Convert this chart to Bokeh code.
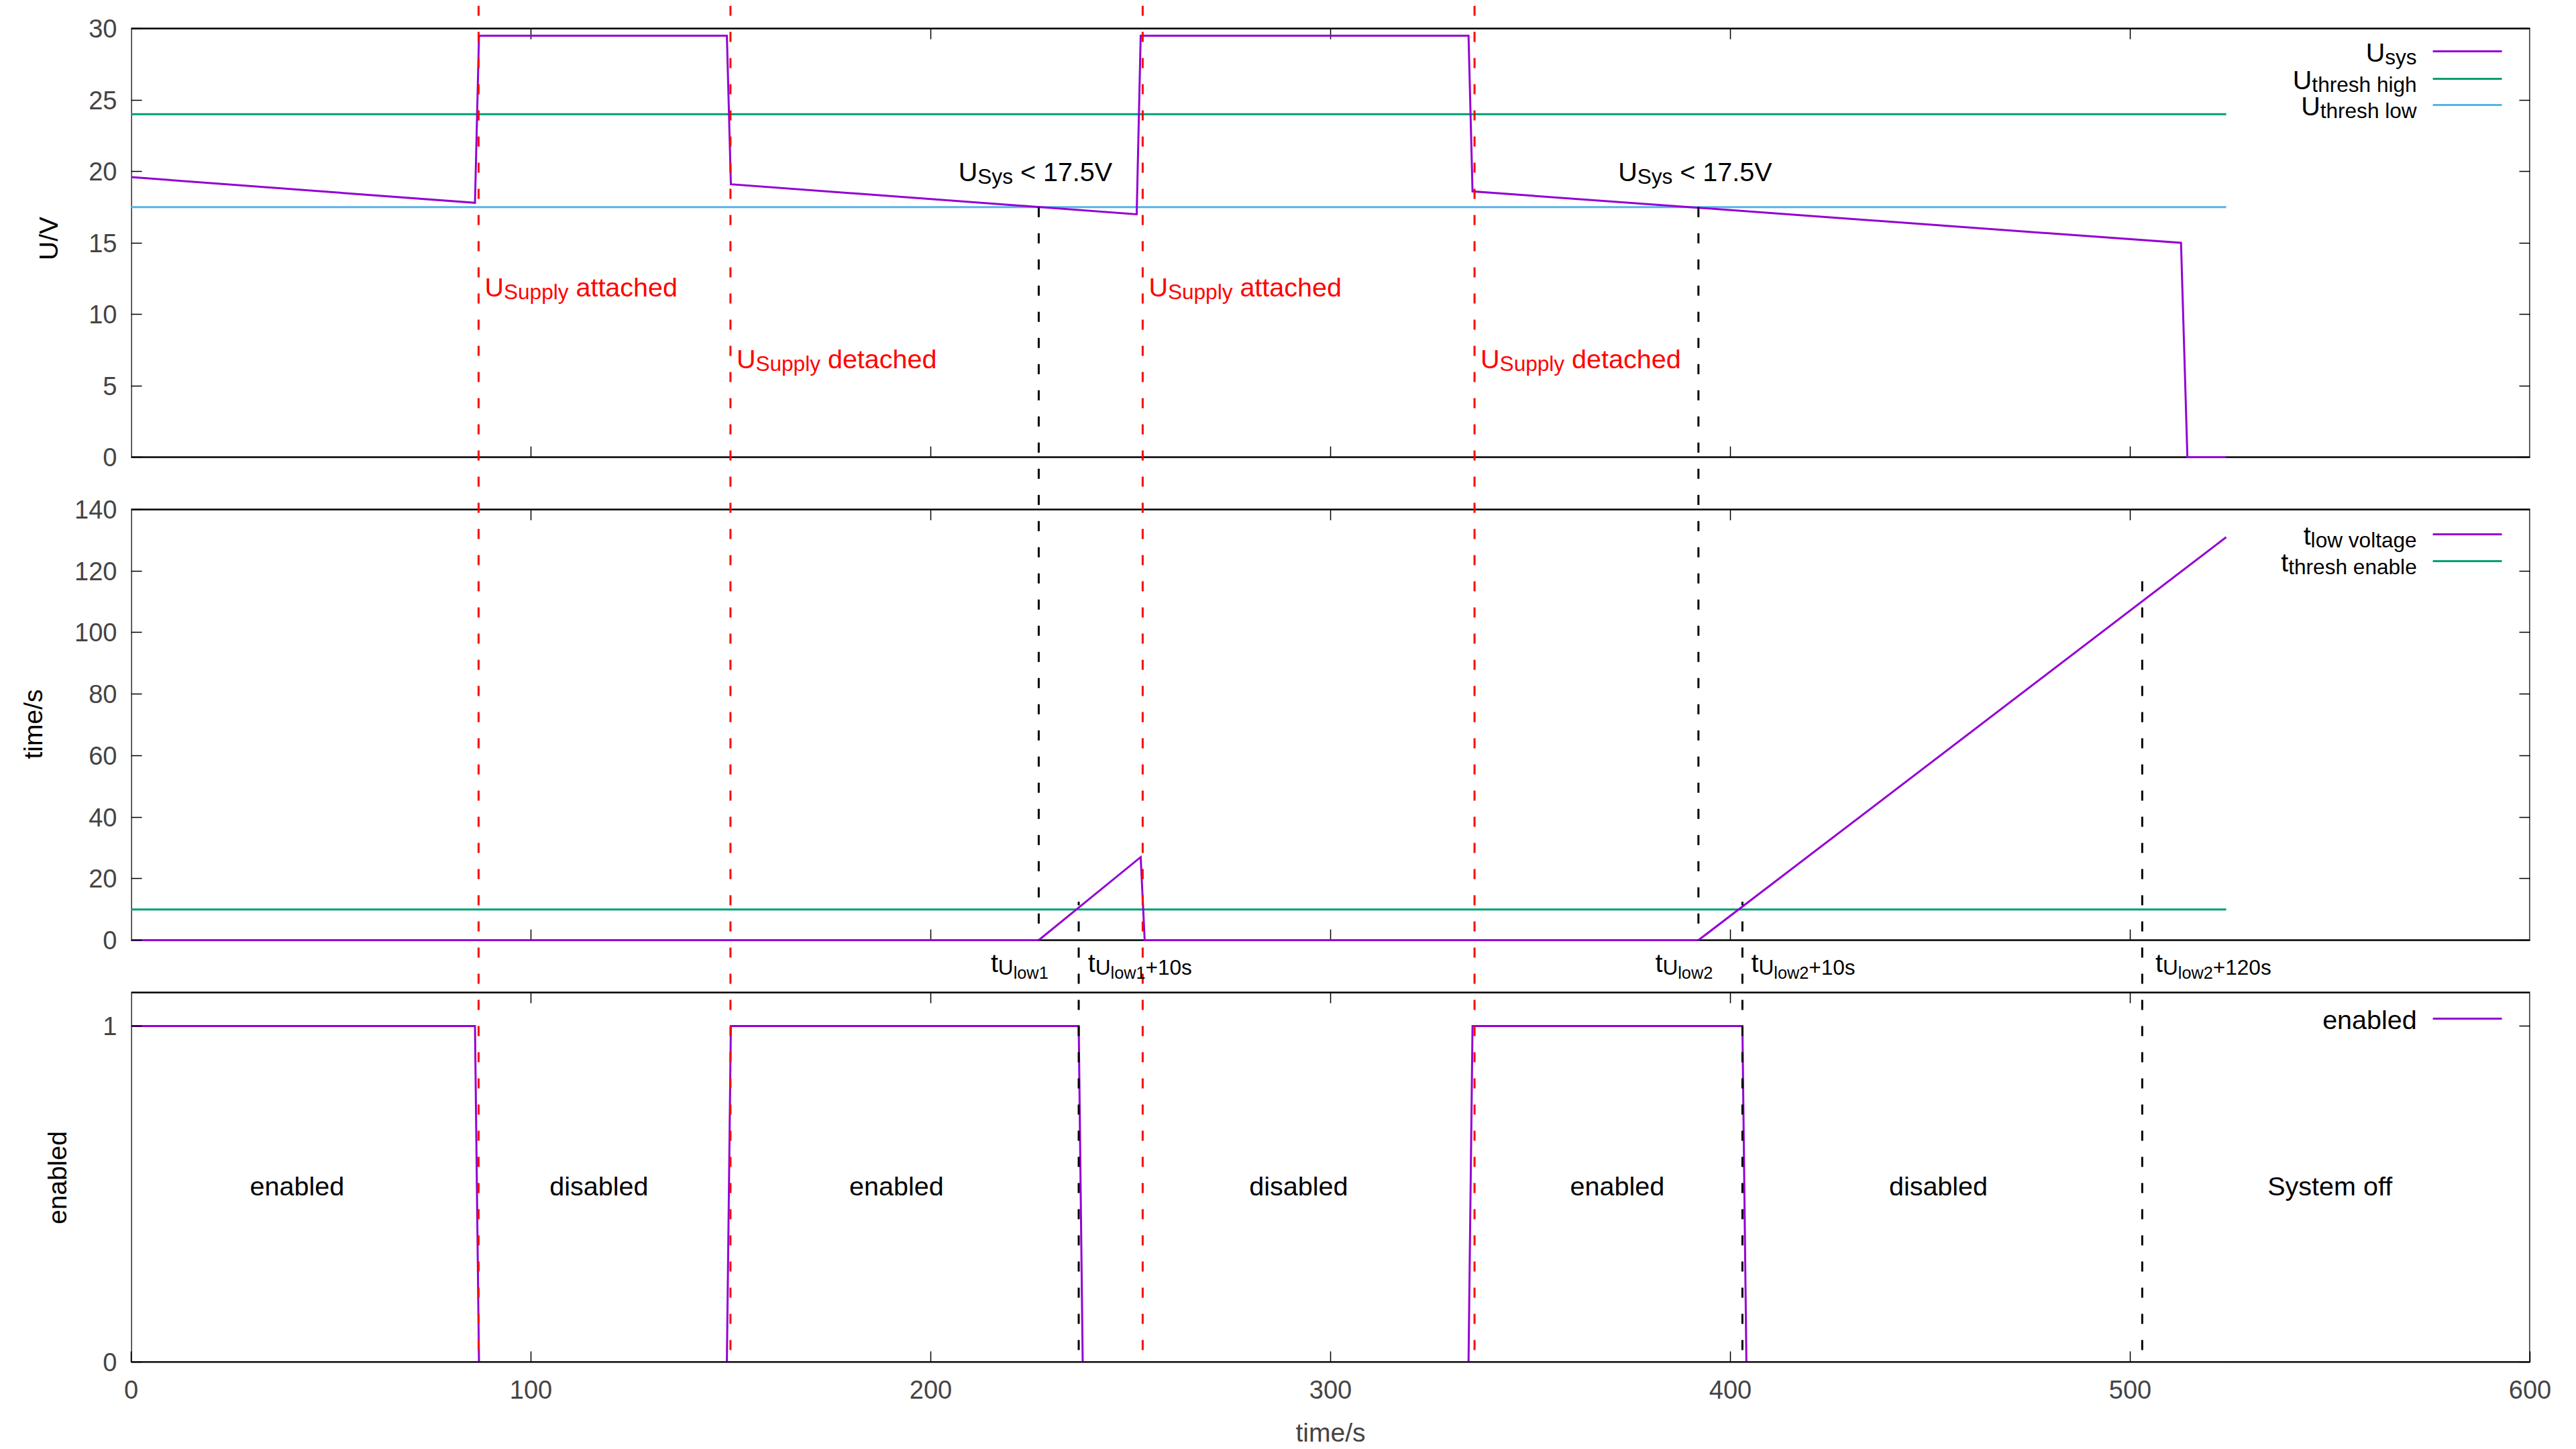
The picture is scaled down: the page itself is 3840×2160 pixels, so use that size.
import math
from bokeh.plotting import figure
from bokeh.layouts import row
from bokeh.models import Range1d, LinearAxis, FixedTicker, ColumnDataSource
from bokeh.core.properties import value, field
from bokeh.embed import file_html
from bokeh.resources import INLINE

# ---------------- data ----------------
T_USYS = [0, 86, 87, 149, 150, 251.5, 252.5, 334.5, 335.5, 512.7, 514.3, 524]
U_SYS = [19.6, 17.8, 29.5, 29.5, 19.1, 17.0, 29.5, 29.5, 18.6, 15.0, 0.0, 0.0]
T_THRESH = [0, 524]
U_THRESH_HIGH = [24.0, 24.0]
U_THRESH_LOW = [17.5, 17.5]

T_TLOW = [0, 227, 252.5, 253.5, 392, 524]
T_LOW_VOLTAGE = [0, 0, 27, 0, 0, 131]
T_THRESH_ENABLE = [10.0, 10.0]

T_ENABLED = [0, 86, 87, 149, 150, 237, 238, 334.5, 335.5, 403, 404, 524]
ENABLED = [1, 1, 0, 0, 1, 1, 0, 0, 1, 1, 0, 0]

SUPPLY_T = [86.9, 149.9, 253.0, 336.0]
SUPPLY_TEXT = ["attached", "detached", "attached", "detached"]
ULOW_T = [227, 392]          # U_sys drops below 17.5 V
ULOW_LIMIT = 17.5
ENABLE_T = [237, 403]        # t_Ulow + 10 s
ENABLE_START = 12.5
OFF_T = 503                  # t_Ulow2 + 120 s
OFF_START = 117

STATE_T = [41.5, 117, 191.4, 292, 371.7, 452, 550]
STATE_TEXT = ["enabled", "disabled", "enabled", "disabled", "enabled", "disabled", "System off"]

X_TICKS = [0, 100, 200, 300, 400, 500, 600]
U_TICKS = [0, 5, 10, 15, 20, 25, 30]
TIME_TICKS = [0, 20, 40, 60, 80, 100, 120, 140]
EN_TICKS = [0, 1]
Y_LABELS = ["U/V", "time/s", "enabled"]

PURPLE, GREEN, BLUE = "#9400d3", "#009e73", "#56b4e9"
RED = "#ff0000"
FONT = "Liberation Sans"

# ---------------- layout ----------------
W, H = 3840, 2160
LW = 108                      # width of the strip holding the rotated y labels
FL, FR, FT, FB = 193, 3771, 8, 2030
PANELS = {
    "top": (42, 681, 0.0, 30.0),
    "mid": (759, 1401, 0.0, 140.0),
    "bot": (1479, 2030, 0.0, 1.1),
}
TICK = 16
BASE_FIX = 13


def sy(panel, v):
    top, bot, v0, v1 = PANELS[panel]
    return bot - (v - v0) / (v1 - v0) * (bot - top)


def val_at(panel, s):
    top, bot, v0, v1 = PANELS[panel]
    return v0 + (bot - s) / (bot - top) * (v1 - v0)


def px(t):
    return FL + t / 600.0 * (FR - FL)


p = figure(width=W - LW, height=H, x_range=Range1d(0, 600), y_range=Range1d(-FB, -FT),
           output_backend="svg", toolbar_location=None,
           min_border_left=FL - LW, min_border_right=W - FR,
           min_border_top=FT, min_border_bottom=H - FB,
           background_fill_color="white", border_fill_color="white")
p.outline_line_color = None
p.grid.visible = False
p.extra_x_ranges = {"px": Range1d(FL, FR)}
p.extra_y_ranges = {k: Range1d(val_at(k, FB), val_at(k, FT)) for k in PANELS}

# y ticks of all three panels on one left axis (global pixel coordinates)
ytick_pos, overrides = [], {}
for name, ticks in (("top", U_TICKS), ("mid", TIME_TICKS), ("bot", EN_TICKS)):
    for t in ticks:
        g = round(-sy(name, t), 3)
        ytick_pos.append(g)
        overrides[g] = str(t)

yax = p.yaxis[0]
yax.ticker = FixedTicker(ticks=ytick_pos, minor_ticks=[])
yax.major_label_overrides = overrides
yax.major_tick_in = TICK
yax.major_tick_out = 0
yax.major_tick_line_width = 1.5
yax.axis_line_color = None
yax.major_label_text_font = FONT
yax.major_label_text_font_size = "38px"
yax.major_label_standoff = 21

rax = LinearAxis(ticker=FixedTicker(ticks=ytick_pos, minor_ticks=[]),
                 major_tick_in=TICK, major_tick_out=0, major_tick_line_width=1.5,
                 axis_line_color=None, major_label_text_font_size="1px",
                 major_label_overrides={g: "" for g in ytick_pos}, major_label_standoff=0)
p.add_layout(rax, "right")

xax = p.xaxis[0]
xax.ticker = FixedTicker(ticks=X_TICKS, minor_ticks=[])
xax.major_tick_in = TICK
xax.major_tick_out = 0
xax.major_tick_line_width = 1.5
xax.axis_line_width = 2
xax.major_label_text_font = FONT
xax.major_label_text_font_size = "38px"
xax.major_label_standoff = 27
xax.axis_label = "time/s"
xax.axis_label_text_font = FONT
xax.axis_label_text_font_size = "39px"
xax.axis_label_text_font_style = "normal"
xax.axis_label_standoff = 26

# panel borders
for name, (top, bot, v0, v1) in PANELS.items():
    p.quad(left=[0], right=[600], bottom=[v0], top=[v1], y_range_name=name,
           fill_color=None, line_color="black", line_width=2.5)

# x ticks on the inner panel borders
tx0, ty0, ty1 = [], [], []
for name, (top, bot, v0, v1) in PANELS.items():
    for t in X_TICKS[1:-1]:
        tx0.append(t); ty0.append(-top); ty1.append(-(top + TICK))
        if name != "bot":
            tx0.append(t); ty0.append(-bot); ty1.append(-(bot - TICK))
p.segment(x0=tx0, x1=tx0, y0=ty0, y1=ty1, line_color="black", line_width=1.5)

# data series
p.line(T_THRESH, U_THRESH_HIGH, y_range_name="top", line_color=GREEN, line_width=3)
p.line(T_THRESH, U_THRESH_LOW, y_range_name="top", line_color=BLUE, line_width=3)
p.line(T_USYS, U_SYS, y_range_name="top", line_color=PURPLE, line_width=3, line_join="miter")
p.line(T_THRESH, T_THRESH_ENABLE, y_range_name="mid", line_color=GREEN, line_width=3)
p.line(T_TLOW, T_LOW_VOLTAGE, y_range_name="mid", line_color=PURPLE, line_width=3, line_join="miter")
p.line(T_ENABLED, ENABLED, y_range_name="bot", line_color=PURPLE, line_width=3, line_join="miter")

# red dashed supply events across all panels
p.segment(x0=SUPPLY_T, x1=SUPPLY_T, y0=[-FT] * len(SUPPLY_T), y1=[-2052] * len(SUPPLY_T),
          line_color=RED, line_width=3, line_dash="15 24")

# black dashed markers
bx, by0, by1 = [], [], []
for t in ULOW_T:
    bx.append(t); by0.append(-sy("top", ULOW_LIMIT)); by1.append(-sy("mid", 0))
for t in ENABLE_T:
    bx.append(t); by0.append(-2051); by1.append(-sy("mid", ENABLE_START))
bx.append(OFF_T); by0.append(-2051); by1.append(-sy("mid", OFF_START))
p.segment(x0=bx, x1=bx, y0=by0, y1=by1, line_color="black", line_width=3, line_dash="15 24")

# ---------------- rich text (sub-/subscripts) ----------------
FS = 39.5
SIZES = [FS, FS * 0.8, FS * 0.64]
SHIFT = [0, 7, 15]
AW = {' ': 278, '+': 584, '<': 584, '.': 278, '/': 278,
      'S': 667, 'U': 722, 'V': 667,
      'a': 556, 'b': 556, 'c': 500, 'd': 556, 'e': 556, 'f': 278, 'g': 556, 'h': 556,
      'i': 222, 'l': 222, 'n': 556, 'o': 556, 'p': 556, 'r': 333, 's': 500, 't': 278,
      'v': 500, 'w': 722, 'y': 500, 'm': 833}


def tw(s, size):
    return sum(AW.get(c, 556) for c in s) * size / 1000.0


rows = dict(x=[], y=[], text=[], size=[], color=[])


def rich(pieces, x, base, align="left", color="black"):
    widths = [tw(t, SIZES[l]) for t, l in pieces]
    total = sum(widths)
    x0 = x - total if align == "right" else (x - total / 2 if align == "center" else x)
    for (t, l), w in zip(pieces, widths):
        s = t.lstrip(" ")
        lead = tw(t[:len(t) - len(s)], SIZES[l])
        rows["x"].append(x0 + lead)
        rows["y"].append(-(base + SHIFT[l] - BASE_FIX))
        rows["text"].append(s)
        rows["size"].append(f"{SIZES[l]:.1f}px")
        rows["color"].append(color)
        x0 += w


for t, txt in zip(SUPPLY_T, SUPPLY_TEXT):
    rich([("U", 0), ("Supply", 1), (" " + txt, 0)], px(t) + 9,
         440 if txt == "attached" else 547, color=RED)
for t in ULOW_T:
    rich([("U", 0), ("Sys", 1), (f" < {ULOW_LIMIT}V", 0)], px(t) - 5, 268, align="center")

rich([("t", 0), ("U", 1), ("low1", 2)], px(215.0), 1447)
rich([("t", 0), ("U", 1), ("low1", 2), ("+10s", 1)], px(239.3), 1447)
rich([("t", 0), ("U", 1), ("low2", 2)], px(381.2), 1447)
rich([("t", 0), ("U", 1), ("low2", 2), ("+10s", 1)], px(405.2), 1447)
rich([("t", 0), ("U", 1), ("low2", 2), ("+120s", 1)], px(506.3), 1447)

for t, txt in zip(STATE_T, STATE_TEXT):
    rich([(txt, 0)], px(t), 1780, align="center")

# legends
LEG_R, LS0, LS1 = 3602, 3626, 3729
legend = [
    ([("U", 0), ("sys", 1)], 76, PURPLE),
    ([("U", 0), ("thresh high", 1)], 117, GREEN),
    ([("U", 0), ("thresh low", 1)], 156, BLUE),
    ([("t", 0), ("low voltage", 1)], 796, PURPLE),
    ([("t", 0), ("thresh enable", 1)], 836, GREEN),
    ([("enabled", 0)], 1518, PURPLE),
]
lsrc = dict(x0=[], x1=[], y=[], c=[])
for pieces, ly, col in legend:
    rich(pieces, LEG_R, ly + 14, align="right")
    lsrc["x0"].append(LS0); lsrc["x1"].append(LS1); lsrc["y"].append(-ly); lsrc["c"].append(col)
p.segment(x0="x0", x1="x1", y0="y", y1="y", line_color="c", line_width=3,
          source=ColumnDataSource(lsrc), x_range_name="px")

p.text(x="x", y="y", text="text", source=ColumnDataSource(rows), x_range_name="px",
       text_font=value(FONT), text_font_size=field("size"), text_color=field("color"),
       text_align="left", text_baseline="alphabetic")

# ---------------- strip with the rotated y-axis labels ----------------
lab = figure(width=LW, height=H, x_range=Range1d(0, LW), y_range=Range1d(-FB, -FT),
             output_backend="svg", toolbar_location=None,
             x_axis_location=None, y_axis_location=None,
             min_border_left=0, min_border_right=0,
             min_border_top=FT, min_border_bottom=H - FB,
             background_fill_color="white", border_fill_color="white")
lab.outline_line_color = None
lab.grid.visible = False
lab.text(x=[85 - BASE_FIX, 62 - BASE_FIX, 98 - BASE_FIX], y=[-355, -1079, -1755], text=Y_LABELS,
         angle=math.pi / 2, text_align="center", text_baseline="alphabetic",
         text_font=value(FONT), text_font_size="39px", text_color="black")

layout = row(lab, p)
open("out.html", "w").write(file_html(layout, INLINE))
